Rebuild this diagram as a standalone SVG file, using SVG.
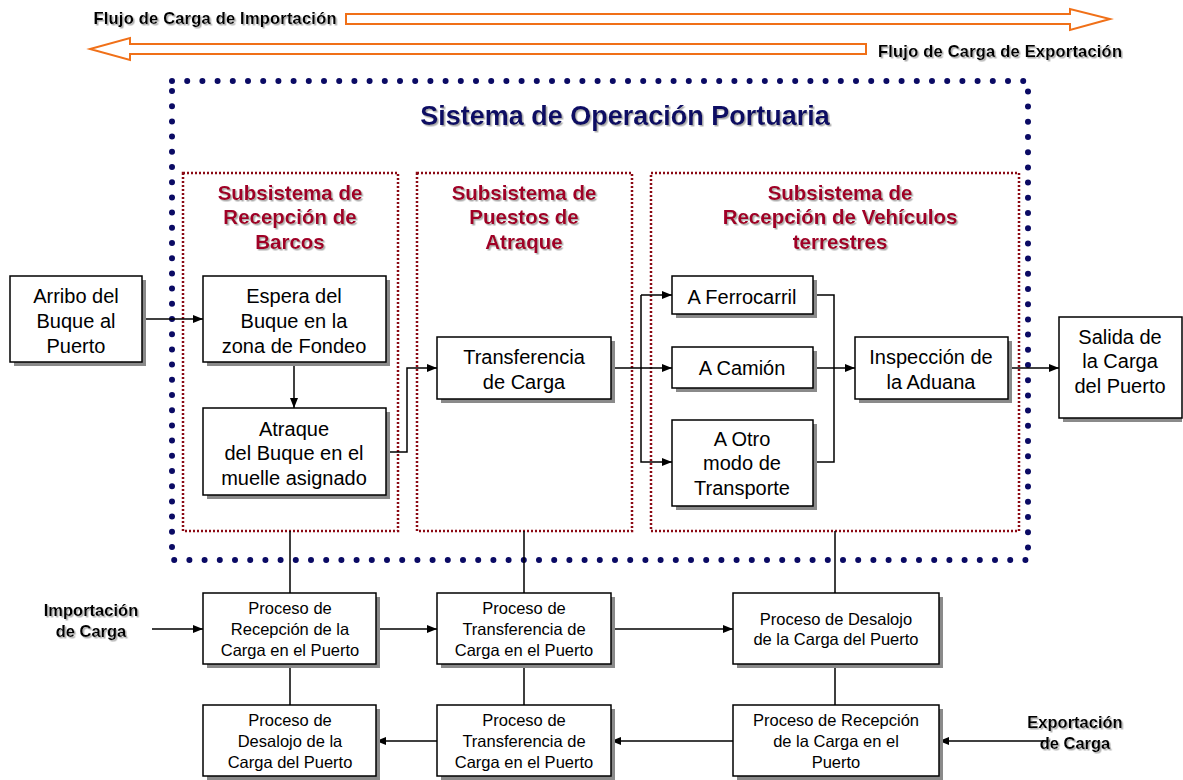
<svg xmlns="http://www.w3.org/2000/svg" width="1183" height="780" viewBox="0 0 1183 780">
<defs>
<marker id="ah" markerWidth="10" markerHeight="8" refX="10" refY="4" orient="auto" markerUnits="userSpaceOnUse">
<path d="M0,0 L10,4 L0,8 Z" fill="#000"/>
</marker>
<filter id="ts" x="-5%" y="-20%" width="110%" height="140%">
<feDropShadow dx="1.5" dy="1.5" stdDeviation="0.6" flood-color="#999" flood-opacity="0.8"/>
</filter>
</defs>
<style>
.box{fill:#fff;stroke:#000;stroke-width:1.5}
.sh{fill:#8a8a8a}
.t{font-family:"Liberation Sans",Arial,sans-serif;font-size:20px;fill:#000;text-anchor:middle}
.c{font-family:"Comic Sans MS","Liberation Sans",sans-serif;font-size:16.5px;fill:#000;text-anchor:middle}
.lab{font-family:"Liberation Sans",Arial,sans-serif;font-size:16.5px;font-weight:bold;fill:#000;text-anchor:middle}
.sub{font-family:"Liberation Sans",Arial,sans-serif;font-size:20.5px;font-weight:bold;fill:#a00028;text-anchor:middle}
.ttl{font-family:"Liberation Sans",Arial,sans-serif;font-size:27px;font-weight:bold;fill:#0a0a64;text-anchor:middle}
.ln{fill:none;stroke:#000;stroke-width:1.5}
.ar{fill:none;stroke:#000;stroke-width:1.5;marker-end:url(#ah)}
.sd{fill:none;stroke:#8b0a14;stroke-width:2.5;stroke-dasharray:2 2}
.big{fill:#fff;stroke:#f07018;stroke-width:2}
</style>
<rect width="1183" height="780" fill="#fff"/>

<g id="flow-import">
<path class="big" d="M346,14 L1070,14 L1070,9 L1110,19 L1070,30 L1070,24 L346,24 Z"/>
<text class="lab" x="215" y="24" textLength="243" filter="url(#ts)">Flujo de Carga de Importación</text>
</g>
<g id="flow-export">
<path class="big" d="M866,44 L130,44 L130,38 L90,49 L130,60 L130,54 L866,54 Z"/>
<text class="lab" x="1000" y="57" textLength="244" filter="url(#ts)">Flujo de Carga de Exportación</text>
</g>

<g id="system">
<rect x="172" y="81" width="856" height="479" fill="none" stroke="#0a0a64" stroke-width="6" stroke-linecap="round" stroke-dasharray="0 15.2"/>
<text class="ttl" x="625" y="125" filter="url(#ts)">Sistema de Operación Portuaria</text>
</g>

<g id="sub1">
<rect class="sd" x="183" y="173" width="215" height="358"/>
<text class="sub" filter="url(#ts)"><tspan x="290" y="200">Subsistema de</tspan><tspan x="290" y="224">Recepción de</tspan><tspan x="290" y="249">Barcos</tspan></text>
</g>
<g id="sub2">
<rect class="sd" x="417" y="173" width="215" height="358"/>
<text class="sub" filter="url(#ts)"><tspan x="524" y="200">Subsistema de</tspan><tspan x="524" y="224">Puestos de</tspan><tspan x="524" y="249">Atraque</tspan></text>
</g>
<g id="sub3">
<rect class="sd" x="651" y="173" width="368" height="358"/>
<text class="sub" filter="url(#ts)"><tspan x="840" y="200">Subsistema de</tspan><tspan x="840" y="224">Recepción de Vehículos</tspan><tspan x="840" y="249">terrestres</tspan></text>
</g>

<g id="connectors">
<path class="ar" d="M142,319 L203,319"/>
<path class="ar" d="M294,362 L294,408"/>
<path class="ar" d="M386,452 L407,452 L407,368 L437,368"/>
<path class="ln" d="M611,368 L641,368"/>
<path class="ar" d="M641,295 L641,462 L672,462"/>
<path class="ar" d="M641,295 L672,295"/>
<path class="ar" d="M641,368 L672,368"/>
<path class="ln" d="M813,295 L834,295 L834,462 L813,462"/>
<path class="ar" d="M813,368 L855,368"/>
<path class="ar" d="M1008,368 L1059,368"/>
<path class="ln" d="M290,531 L290,593 M290,664 L290,705"/>
<path class="ln" d="M524,531 L524,593 M524,664 L524,705"/>
<path class="ln" d="M835,531 L835,593 M835,664 L835,705"/>
<path class="ar" d="M152,629 L203,629"/>
<path class="ar" d="M376,629 L437,629"/>
<path class="ar" d="M611,629 L733,629"/>
<path class="ar" d="M1050,741 L939,741"/>
<path class="ar" d="M733,741 L611,741"/>
<path class="ar" d="M437,741 L376,741"/>
</g>

<g id="arribo">
<rect class="sh" x="14" y="280" width="132" height="86"/>
<rect class="box" x="10" y="276" width="132" height="86"/>
<text class="t"><tspan x="76" y="303">Arribo del</tspan><tspan x="76" y="328">Buque al</tspan><tspan x="76" y="353">Puerto</tspan></text>
</g>
<g id="espera">
<rect class="sh" x="207" y="280" width="183" height="86"/>
<rect class="box" x="203" y="276" width="183" height="86"/>
<text class="t"><tspan x="294" y="303">Espera del</tspan><tspan x="294" y="328">Buque en la</tspan><tspan x="294" y="353">zona de Fondeo</tspan></text>
</g>
<g id="atraque">
<rect class="sh" x="207" y="412" width="183" height="87"/>
<rect class="box" x="203" y="408" width="183" height="87"/>
<text class="t"><tspan x="294" y="436">Atraque</tspan><tspan x="294" y="460">del Buque en el</tspan><tspan x="294" y="485">muelle asignado</tspan></text>
</g>
<g id="transferencia">
<rect class="sh" x="441" y="341" width="174" height="62"/>
<rect class="box" x="437" y="337" width="174" height="62"/>
<text class="t"><tspan x="524" y="364">Transferencia</tspan><tspan x="524" y="389">de Carga</tspan></text>
</g>
<g id="ferrocarril">
<rect class="sh" x="676" y="280" width="141" height="38"/>
<rect class="box" x="672" y="276" width="141" height="38"/>
<text class="t" x="742" y="304">A Ferrocarril</text>
</g>
<g id="camion">
<rect class="sh" x="676" y="351" width="141" height="41"/>
<rect class="box" x="672" y="347" width="141" height="41"/>
<text class="t" x="742" y="375">A Camión</text>
</g>
<g id="otro">
<rect class="sh" x="676" y="424" width="141" height="86"/>
<rect class="box" x="672" y="420" width="141" height="86"/>
<text class="t"><tspan x="742" y="446">A Otro</tspan><tspan x="742" y="470">modo de</tspan><tspan x="742" y="495">Transporte</tspan></text>
</g>
<g id="aduana">
<rect class="sh" x="859" y="341" width="153" height="62"/>
<rect class="box" x="855" y="337" width="153" height="62"/>
<text class="t"><tspan x="931" y="364">Inspección de</tspan><tspan x="931" y="389">la Aduana</tspan></text>
</g>
<g id="salida">
<rect class="sh" x="1063" y="321" width="119" height="101"/>
<rect class="box" x="1059" y="317" width="123" height="101"/>
<text class="t"><tspan x="1120" y="344">Salida de</tspan><tspan x="1120" y="368">la Carga</tspan><tspan x="1120" y="393">del Puerto</tspan></text>
</g>

<g id="importacion">
<text class="lab" filter="url(#ts)"><tspan x="91" y="616">Importación</tspan><tspan x="91" y="637">de Carga</tspan></text>
</g>
<g id="exportacion">
<text class="lab" filter="url(#ts)"><tspan x="1075" y="728">Exportación</tspan><tspan x="1075" y="749">de Carga</tspan></text>
</g>

<g id="p-recepcion-imp">
<rect class="sh" x="207" y="597" width="173" height="71"/>
<rect class="box" x="203" y="593" width="173" height="71"/>
<text class="c"><tspan x="290" y="614">Proceso de</tspan><tspan x="290" y="635">Recepción de la</tspan><tspan x="290" y="656">Carga en el Puerto</tspan></text>
</g>
<g id="p-transferencia-imp">
<rect class="sh" x="441" y="597" width="174" height="71"/>
<rect class="box" x="437" y="593" width="174" height="71"/>
<text class="c"><tspan x="524" y="614">Proceso de</tspan><tspan x="524" y="635">Transferencia de</tspan><tspan x="524" y="656">Carga en el Puerto</tspan></text>
</g>
<g id="p-desalojo-imp">
<rect class="sh" x="737" y="597" width="206" height="71"/>
<rect class="box" x="733" y="593" width="206" height="71"/>
<text class="c"><tspan x="836" y="625">Proceso de Desalojo</tspan><tspan x="836" y="645">de la Carga del Puerto</tspan></text>
</g>
<g id="p-desalojo-exp">
<rect class="sh" x="207" y="709" width="173" height="71"/>
<rect class="box" x="203" y="705" width="173" height="71"/>
<text class="c"><tspan x="290" y="726">Proceso de</tspan><tspan x="290" y="747">Desalojo de la</tspan><tspan x="290" y="768">Carga del Puerto</tspan></text>
</g>
<g id="p-transferencia-exp">
<rect class="sh" x="441" y="709" width="174" height="71"/>
<rect class="box" x="437" y="705" width="174" height="71"/>
<text class="c"><tspan x="524" y="726">Proceso de</tspan><tspan x="524" y="747">Transferencia de</tspan><tspan x="524" y="768">Carga en el Puerto</tspan></text>
</g>
<g id="p-recepcion-exp">
<rect class="sh" x="737" y="709" width="206" height="71"/>
<rect class="box" x="733" y="705" width="206" height="71"/>
<text class="c"><tspan x="836" y="726">Proceso de Recepción</tspan><tspan x="836" y="747">de la Carga en el</tspan><tspan x="836" y="768">Puerto</tspan></text>
</g>
</svg>
